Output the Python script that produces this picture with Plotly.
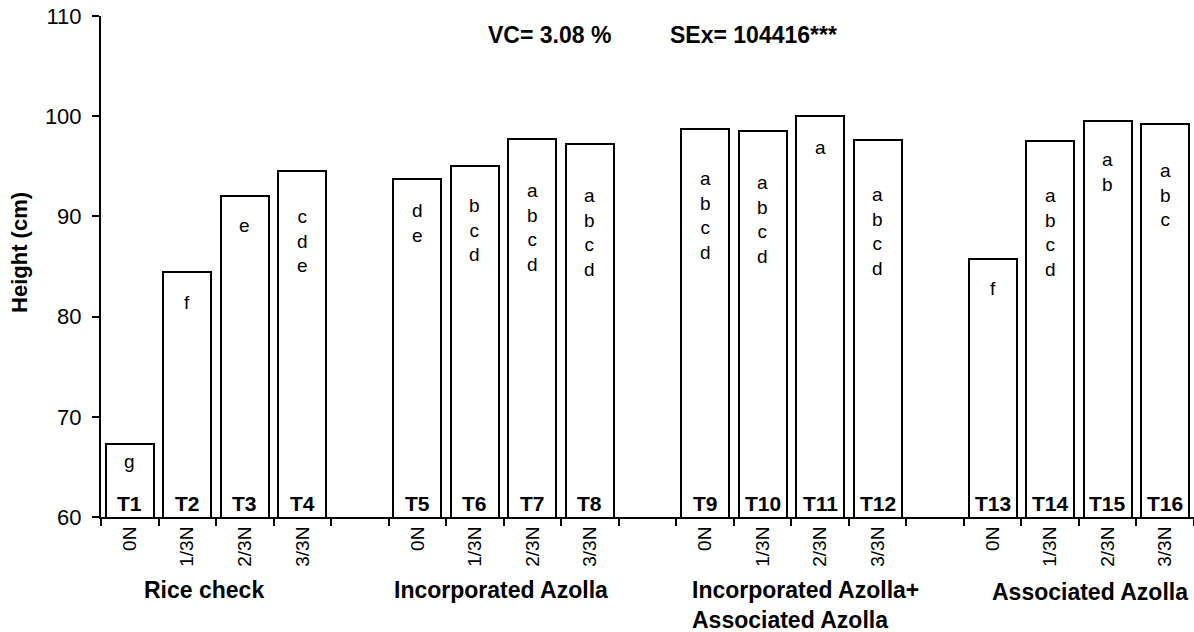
import plotly.graph_objects as go

# ---------------- data ----------------
treatments = [f"T{i}" for i in range(1, 17)]
n_levels = ["0N", "1/3N", "2/3N", "3/3N"] * 4
heights = [67.3, 84.5, 92.0, 94.5,
           93.7, 95.0, 97.7, 97.2,
           98.7, 98.5, 100.0, 97.6,
           85.7, 97.5, 99.5, 99.2]
letters = ["g", "f", "e", "c<br>d<br>e",
           "d<br>e", "b<br>c<br>d", "a<br>b<br>c<br>d", "a<br>b<br>c<br>d",
           "a<br>b<br>c<br>d", "a<br>b<br>c<br>d", "a", "a<br>b<br>c<br>d",
           "f", "a<br>b<br>c<br>d", "a<br>b", "a<br>b<br>c"]
# height (cm) at which the first letter of each group sits
letter_y = [65.5, 81.4, 89.0, 89.9,
            90.5, 91.0, 92.5, 92.0,
            93.7, 93.3, 96.8, 92.1,
            82.8, 92.0, 95.6, 94.5]
groups = ["Rice check", "Incorporated Azolla",
          "Incorporated Azolla+<br>Associated Azolla", "Associated Azolla"]
y_ticks = [60, 70, 80, 90, 100, 110]
y_title = "Height (cm)"
stats_vc = "VC= 3.08 %"
stats_se = "SEx= 104416***"

# ------------- build category axis with gaps between groups -------------
cats, ticktext, ys = [], [], []
k = 0
for g in range(4):
    for j in range(4):
        cats.append(treatments[k]); ticktext.append(n_levels[k]); ys.append(heights[k])
        k += 1
    if g < 3:
        cats.append(f"gap{g}"); ticktext.append(""); ys.append(None)

FONT = "Liberation Sans, Arial, sans-serif"

fig = go.Figure()
fig.add_trace(go.Bar(
    x=cats, y=ys, width=0.835,
    marker=dict(color="white", line=dict(color="black", width=2)),
    showlegend=False, hoverinfo="skip",
))

ann = []
for t, lt, ly in zip(treatments, letters, letter_y):
    ann.append(dict(x=t, y=ly, xref="x", yref="y", text=lt, showarrow=False,
                    yanchor="top", yshift=13, font=dict(size=19, color="black", family=FONT)))
    ann.append(dict(x=t, y=60, xref="x", yref="y", text=f"<b>{t}</b>", showarrow=False,
                    yanchor="bottom", yshift=0, font=dict(size=21, color="black", family=FONT)))

# group labels
grp_pos = [(0.0938, "center", -0.146), (0.366, "center", -0.146),
           (0.539, "left", -0.175), (0.905, "center", -0.149)]
for (gx, anc, gy), gl in zip(grp_pos, groups):
    ann.append(dict(x=gx, y=gy, xref="paper", yref="paper",
                    text=f"<b>{gl}</b>", showarrow=False, xanchor=anc, yanchor="middle",
                    align="left", font=dict(size=23, color="black", family=FONT)))

ann.append(dict(x=0.352, y=0.962, xref="paper", yref="paper", text=f"<b>{stats_vc}</b>",
                showarrow=False, xanchor="left", yanchor="middle",
                font=dict(size=23, color="black", family=FONT)))
ann.append(dict(x=0.519, y=0.962, xref="paper", yref="paper", text=f"<b>{stats_se}</b>",
                showarrow=False, xanchor="left", yanchor="middle",
                font=dict(size=23, color="black", family=FONT)))
ann.append(dict(x=-0.0741, y=0.527, xref="paper", yref="paper", text=f"<b>{y_title}</b>",
                showarrow=False, textangle=-90, xanchor="center", yanchor="middle",
                font=dict(size=22, color="black", family=FONT)))

fig.update_layout(
    width=1194, height=632,
    margin=dict(l=101, r=0, t=16, b=115),
    paper_bgcolor="white", plot_bgcolor="white",
    font=dict(family=FONT, color="black"),
    bargap=0,
    annotations=ann,
    xaxis=dict(
        type="category", categoryorder="array", categoryarray=cats,
        tickmode="array", tickvals=cats, ticktext=ticktext,
        tickson="boundaries", ticks="outside", ticklen=7, tickwidth=2, tickcolor="black",
        tickangle=-90, tickfont=dict(size=19, color="black", family=FONT),
        showline=True, linecolor="black", linewidth=2, showgrid=False,
        range=[-0.5, len(cats) - 0.5], zeroline=False, automargin=False,
    ),
    yaxis=dict(
        range=[60, 110], tickvals=y_ticks, ticks="outside", ticklen=7, tickwidth=2,
        tickcolor="black", tickfont=dict(size=22, color="black", family=FONT),
        ticklabelstandoff=6,
        showline=True, linecolor="black", linewidth=2, showgrid=False, zeroline=False,
        automargin=False,
    ),
)

fig.write_html("out.html", config={"displayModeBar": False},
               post_script="document.body.style.margin='0';")
